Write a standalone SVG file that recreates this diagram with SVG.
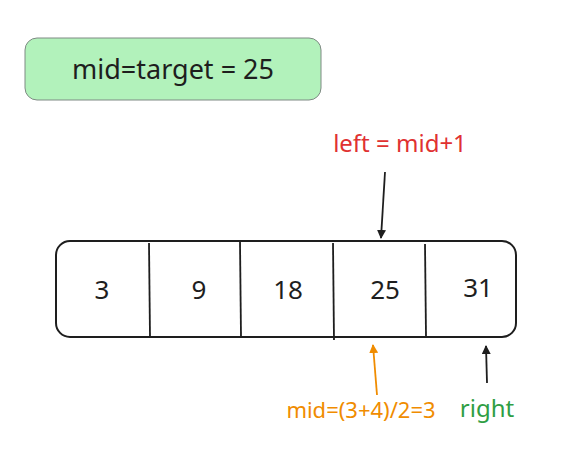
<svg xmlns="http://www.w3.org/2000/svg" width="573" height="457" viewBox="0 0 573 457">
<defs>
<style>
text{font-family:"Noto Sans","Liberation Sans",sans-serif;text-anchor:middle;}
.num{font-size:26px;fill:#1e1e1e;}
.div{stroke:#1e1e1e;stroke-width:1.8;fill:none;}
.conn{stroke-width:1.8;fill:none;}
</style>
<marker id="ah-dark" viewBox="0 0 10 10" refX="9" refY="5" markerWidth="5" markerHeight="5" orient="auto" markerUnits="strokeWidth"><path d="M0,0 L10,5 L0,10 Z" fill="#1e1e1e"/></marker>
<marker id="ah-orange" viewBox="0 0 10 10" refX="9" refY="5" markerWidth="5" markerHeight="5" orient="auto" markerUnits="strokeWidth"><path d="M0,0 L10,5 L0,10 Z" fill="#f08c00"/></marker>
</defs>
<rect width="573" height="457" fill="#ffffff"/>
<g id="status">
<rect x="25" y="38" width="296" height="62" rx="12" fill="#b2f2bb" stroke="#7f8a84" stroke-width="1"/>
<text x="173" y="79" font-size="27" fill="#1e1e1e">mid=target = 25</text>
</g>
<g id="array">
<rect x="56" y="241" width="460" height="96" rx="14" fill="none" stroke="#1e1e1e" stroke-width="2"/>
<path class="div" d="M149,243 L150,337"/>
<path class="div" d="M240,242 L241,336"/>
<path class="div" d="M333,243 L334,340"/>
<path class="div" d="M425,244 L426,336"/>
<text class="num" x="102" y="299">3</text>
<text class="num" x="199" y="299">9</text>
<text class="num" x="288" y="299">18</text>
<text class="num" x="385" y="299">25</text>
<text class="num" x="478" y="297">31</text>
</g>
<g id="left-label">
<text x="400" y="152" font-size="24" fill="#e03131">left = mid+1</text>
</g>
<g id="mid-label">
<text x="361" y="418" font-size="22" fill="#f08c00">mid=(3+4)/2=3</text>
</g>
<g id="right-label">
<text x="487" y="417" font-size="24" fill="#2f9e44">right</text>
</g>
<g id="connectors">
<path class="conn" stroke="#1e1e1e" d="M385,172 L381,238" marker-end="url(#ah-dark)"/>
<path class="conn" stroke="#f08c00" d="M377,395 L373,345" marker-end="url(#ah-orange)"/>
<path class="conn" stroke="#1e1e1e" d="M487,383 L486,346" marker-end="url(#ah-dark)"/>
</g>
</svg>
